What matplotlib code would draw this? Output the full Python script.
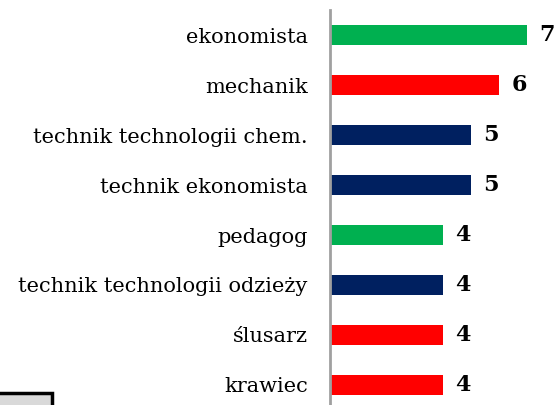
import matplotlib.pyplot as plt
from matplotlib.patches import Rectangle

# professions and counts, top to bottom
zawody = ['ekonomista', 'mechanik', 'technik technologii chem.', 'technik ekonomista',
          'pedagog', 'technik technologii odzieży', 'ślusarz', 'krawiec']
liczba = [7, 6, 5, 5, 4, 4, 4, 4]
kolory = ['#00B050', '#FF0000', '#002060', '#002060',
          '#00B050', '#002060', '#FF0000', '#FF0000']

plt.rcParams['font.family'] = ['DejaVu Serif']

fig = plt.figure(figsize=(5.57, 4.05), dpi=100)
ax = fig.add_axes([330 / 557, 0, 1 - 330 / 557, 1 - 10 / 405])

pos = list(range(len(zawody)))
ax.barh(pos, liczba, height=0.4, color=kolory)
for p, v in zip(pos, liczba):
    ax.text(v + 0.45, p, str(v), va='center', ha='left', fontsize=16, fontweight='bold')

ax.set_yticks(pos)
ax.set_yticklabels(zawody, fontsize=15)
ax.tick_params(axis='y', length=0, pad=16)
ax.set_xticks([])
ax.set_xlim(0, 227 / 28.14)
ax.set_ylim(7.4, -0.5)
for s in ['top', 'right', 'bottom']:
    ax.spines[s].set_visible(False)
ax.spines['left'].set_color('#A0A0A0')
ax.spines['left'].set_linewidth(2)

# fragment of a box in the bottom-left corner
fig.patches.append(Rectangle((-0.01, -0.02), 58 / 557, 20 / 405, transform=fig.transFigure,
                             facecolor='#D9D9D9', edgecolor='black', linewidth=2.5))

fig.savefig('out.png', dpi=100)
